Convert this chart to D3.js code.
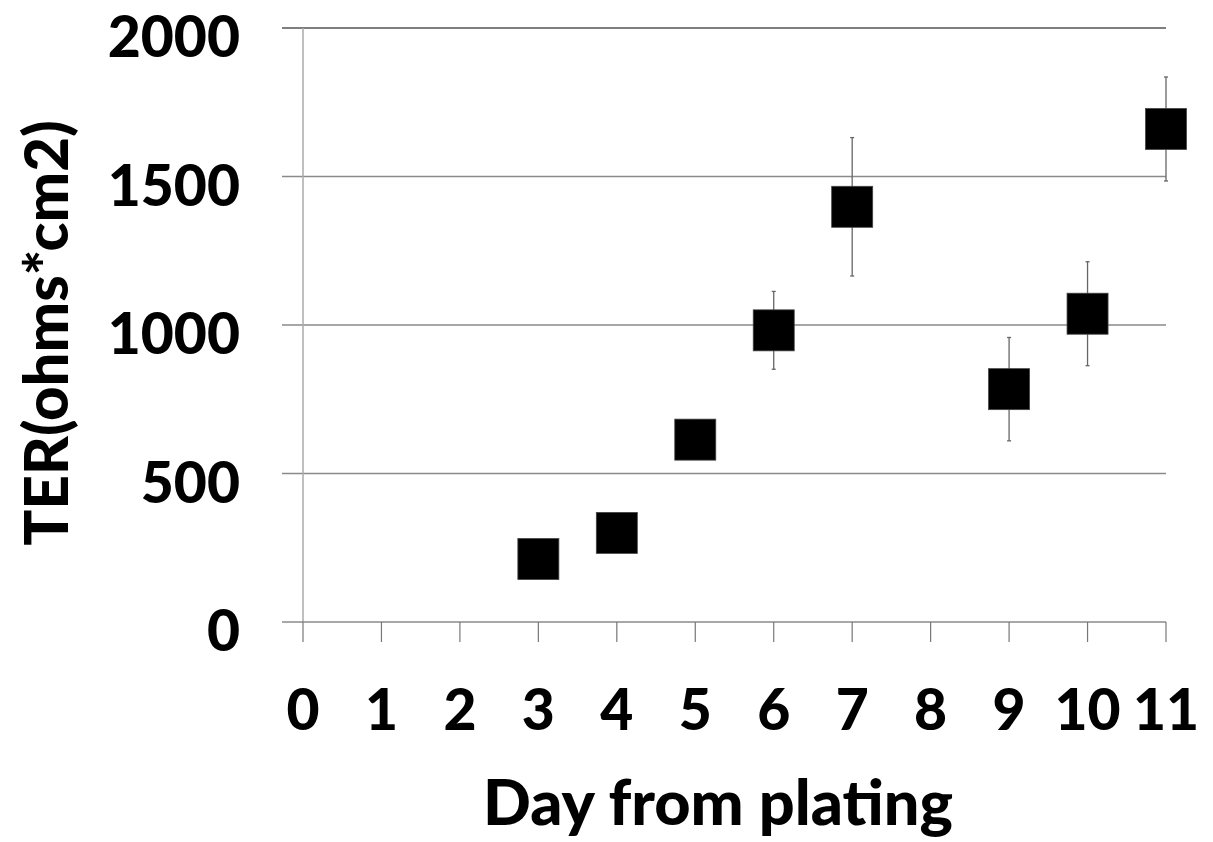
<!DOCTYPE html>
<html><head><meta charset="utf-8">
<script src="https://cdn.jsdelivr.net/npm/d3@7"></script>
<style>body{margin:0;background:#fff}svg{display:block}text{font-family:Lato,"Open Sans",sans-serif;font-weight:900;fill:#000}</style>
</head><body><svg id="c" width="1213" height="842"></svg>
<script>
const days = [3, 4, 5, 6, 7, 9, 10, 11];
const ter = [212, 300, 614, 982, 1398, 784, 1038, 1660];
const err = [30, 30, 65, 131, 233, 174, 175, 175];
const xTicks = [0,1,2,3,4,5,6,7,8,9,10,11];
const yTicks = [0,500,1000,1500,2000];

const svg = d3.select("#c");
const x = d3.scaleLinear().domain([0,11]).range([303,1166]);
const y = d3.scaleLinear().domain([0,2000]).range([622,28]);

svg.append("g").selectAll("line").data(yTicks.filter(d=>d>0)).join("line")
  .attr("x1",282).attr("x2",x(11)).attr("y1",d=>y(d)).attr("y2",d=>y(d))
  .attr("stroke",d=>d===2000?"#555":"#8a8a8a").attr("stroke-width",d=>d===2000?1.6:1.3);

svg.append("line").attr("x1",x(0)).attr("x2",x(0)).attr("y1",y(2000)).attr("y2",y(0))
  .attr("stroke","#aaa").attr("stroke-width",1.5);
svg.append("line").attr("x1",282).attr("x2",x(11)).attr("y1",y(0)).attr("y2",y(0))
  .attr("stroke","#8a8a8a").attr("stroke-width",1.5);
svg.append("g").selectAll("line").data(xTicks).join("line")
  .attr("x1",d=>x(d)).attr("x2",d=>x(d)).attr("y1",y(0)).attr("y2",y(0)+20)
  .attr("stroke","#777").attr("stroke-width",1.2);

svg.append("g").selectAll("text").data(yTicks).join("text")
  .attr("x",240).attr("y",d=>y(d)+29).attr("text-anchor","end")
  .attr("font-size",57).text(d=>d);
svg.append("g").selectAll("text").data(xTicks).join("text")
  .attr("x",d=>x(d)).attr("y",730).attr("text-anchor","middle")
  .attr("font-size",57).text(d=>d);

svg.append("text").attr("x",718).attr("y",825).attr("text-anchor","middle")
  .attr("font-size",63).text("Day from plating");
svg.append("text").attr("transform","translate(68,333) rotate(-90)").attr("text-anchor","middle")
  .attr("font-size",60).text("TER(ohms*cm2)");

const eb = svg.append("g").attr("stroke","#666").attr("stroke-width",1.3);
days.forEach((d,i)=>{
  eb.append("line").attr("x1",x(d)).attr("x2",x(d)).attr("y1",y(ter[i]+err[i])).attr("y2",y(ter[i]-err[i]));
  [ter[i]+err[i], ter[i]-err[i]].forEach(v=>eb.append("line").attr("x1",x(d)-2).attr("x2",x(d)+2).attr("y1",y(v)).attr("y2",y(v)));
});

svg.append("g").selectAll("rect").data(days).join("rect")
  .attr("x",d=>x(d)-20.5).attr("y",(d,i)=>y(ter[i])-20.5)
  .attr("width",41).attr("height",41).attr("fill","#000").attr("stroke","#444").attr("stroke-width",0.8);
</script></body></html>
